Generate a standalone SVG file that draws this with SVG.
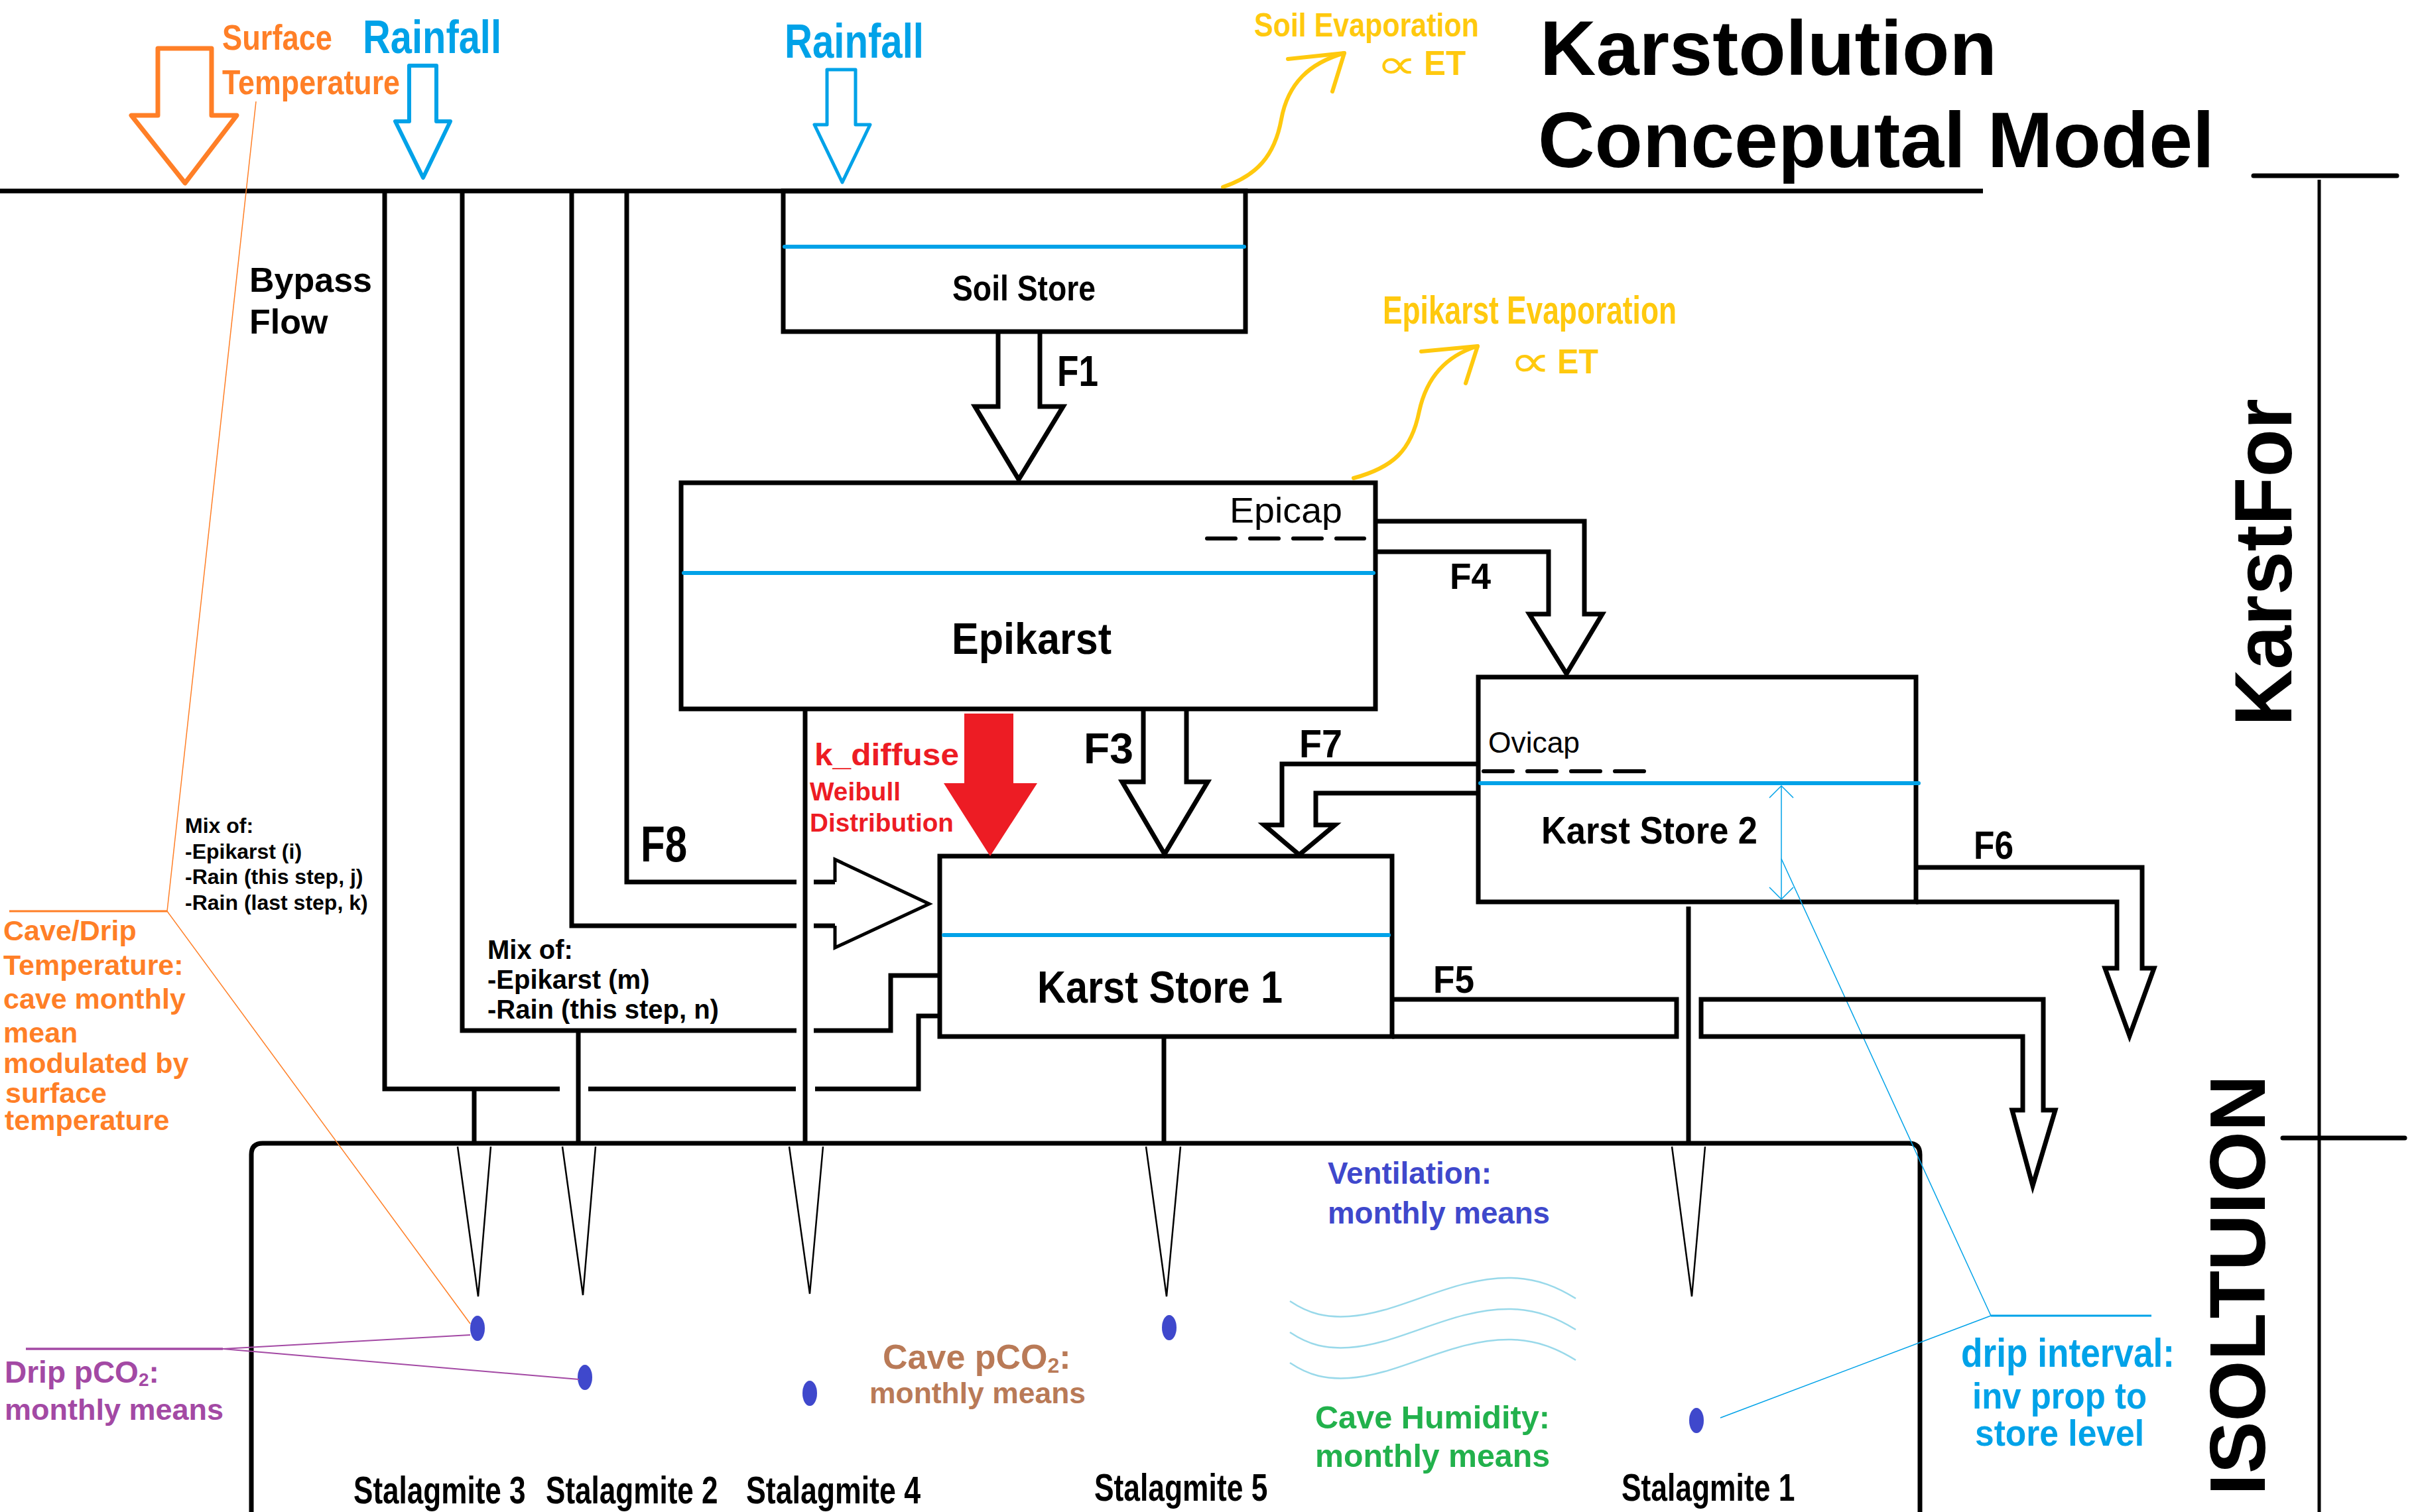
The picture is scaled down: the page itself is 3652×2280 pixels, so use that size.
<svg xmlns="http://www.w3.org/2000/svg" width="3652" height="2280" viewBox="0 0 3652 2280">
<style>
.k{stroke:#000;fill:none;stroke-width:7}
.ah{stroke:#000;fill:none;stroke-width:7;stroke-linejoin:miter}
.wl{stroke:#00A2E8;stroke-width:6;stroke-linecap:round}
.ds{stroke:#000;stroke-width:6;stroke-linecap:round}
.st{stroke:#000;stroke-width:2.5;fill:none}
.drop{fill:#3F48CC}
.ye-l{stroke:#FFC90E;stroke-width:6;fill:none;stroke-linecap:round;stroke-linejoin:round}
.wave{stroke:#99D9EA;stroke-width:2.5;fill:none}
text{font-family:"Liberation Sans",Arial,"DejaVu Sans",sans-serif;font-weight:bold}
.n{font-weight:normal}
.prop{font-family:"DejaVu Sans",sans-serif;font-weight:normal}
.or{fill:#FF7F27}
.bl{fill:#00A2E8}
.ye{fill:#FFC90E}
.rd{fill:#ED1C24}
.pu{fill:#A349A4}
.in{fill:#3F48CC}
.br{fill:#B97A57}
.gr{fill:#22B14C}
</style>
<rect width="3652" height="2280" fill="#fff"/>

<g id="frame">
  <line x1="0" y1="288" x2="2990" y2="288" stroke="#000" stroke-width="7"/>
  <line x1="3398" y1="265" x2="3614" y2="265" stroke="#000" stroke-width="7" stroke-linecap="round"/>
  <line x1="3497" y1="271" x2="3497" y2="2280" stroke="#000" stroke-width="5"/>
  <line x1="3442" y1="1716" x2="3626" y2="1716" stroke="#000" stroke-width="7" stroke-linecap="round"/>
  <text x="2322" y="113" font-size="117" textLength="689" lengthAdjust="spacingAndGlyphs">Karstolution</text>
  <text x="2319" y="252" font-size="118" textLength="1020" lengthAdjust="spacingAndGlyphs">Conceputal Model</text>
  <text transform="translate(3455,1095) rotate(-90)" font-size="122" textLength="494" lengthAdjust="spacingAndGlyphs">KarstFor</text>
  <text transform="translate(3415,2255) rotate(-90)" font-size="118" textLength="634" lengthAdjust="spacingAndGlyphs">ISOLTUION</text>
</g>

<g id="surface-temperature">
  <polygon points="238,73 319,73 319,174 357,174 279,276 198,174 238,174" fill="none" stroke="#FF7F27" stroke-width="7" stroke-linejoin="round"/>
  <text class="or" x="335" y="75" font-size="54" textLength="166" lengthAdjust="spacingAndGlyphs">Surface</text>
  <text class="or" x="335" y="142" font-size="52" textLength="268" lengthAdjust="spacingAndGlyphs">Temperature</text>
</g>

<g id="rainfall-1">
  <polygon points="617,99 658,99 658,183 679,183 638,268 596,183 617,183" fill="none" stroke="#00A2E8" stroke-width="6" stroke-linejoin="round"/>
  <text class="bl" x="547" y="80" font-size="70" textLength="209" lengthAdjust="spacingAndGlyphs">Rainfall</text>
</g>

<g id="rainfall-2">
  <polygon points="1247,105 1290,105 1290,188 1312,188 1270,275 1228,188 1247,188" fill="none" stroke="#00A2E8" stroke-width="5" stroke-linejoin="round"/>
  <text class="bl" x="1183" y="87" font-size="72" textLength="210" lengthAdjust="spacingAndGlyphs">Rainfall</text>
</g>

<g id="soil-evaporation">
  <path class="ye-l" d="M1844,282 C1895,265 1922,235 1932,180 C1942,125 1975,95 2027,80"/>
  <path class="ye-l" d="M1942,89 L2027,80 L2009,138"/>
  <text class="ye" x="1891" y="55" font-size="50" textLength="339" lengthAdjust="spacingAndGlyphs">Soil Evaporation</text>
  <text class="ye prop" x="2075" y="118" font-size="62" textLength="62" lengthAdjust="spacingAndGlyphs">∝</text>
  <text class="ye" x="2147" y="113" font-size="52" textLength="63" lengthAdjust="spacingAndGlyphs">ET</text>
</g>

<g id="epikarst-evaporation">
  <path class="ye-l" d="M2041,721 C2100,705 2128,680 2140,620 C2152,565 2185,535 2228,522"/>
  <path class="ye-l" d="M2143,530 L2228,522 L2210,578"/>
  <text class="ye" x="2085" y="488" font-size="60" textLength="443" lengthAdjust="spacingAndGlyphs">Epikarst Evaporation</text>
  <text class="ye prop" x="2276" y="568" font-size="68" textLength="63" lengthAdjust="spacingAndGlyphs">∝</text>
  <text class="ye" x="2348" y="563" font-size="52" textLength="62" lengthAdjust="spacingAndGlyphs">ET</text>
</g>

<g id="soil-store">
  <rect x="1181" y="288" width="697" height="212" class="k"/>
  <line x1="1183" y1="372" x2="1876" y2="372" class="wl"/>
  <text x="1436" y="453" font-size="54" textLength="216" lengthAdjust="spacingAndGlyphs">Soil Store</text>
</g>

<g id="epikarst">
  <rect x="1027" y="728" width="1047" height="341" class="k"/>
  <line x1="1031" y1="864" x2="2071" y2="864" class="wl"/>
  <line x1="1820" y1="812" x2="2057" y2="812" class="ds" stroke-dasharray="43 22"/>
  <text class="n" x="1854" y="788" font-size="54" textLength="170" lengthAdjust="spacingAndGlyphs">Epicap</text>
  <text x="1435" y="986" font-size="66" textLength="241" lengthAdjust="spacingAndGlyphs">Epikarst</text>
</g>

<g id="karst-store-1">
  <rect x="1417" y="1291" width="682" height="272" class="k"/>
  <line x1="1423" y1="1410" x2="2094" y2="1410" class="wl"/>
  <text x="1564" y="1512" font-size="68" textLength="370" lengthAdjust="spacingAndGlyphs">Karst Store 1</text>
</g>

<g id="karst-store-2">
  <rect x="2229" y="1021" width="660" height="339" class="k"/>
  <line x1="2232" y1="1181" x2="2893" y2="1181" class="wl"/>
  <line x1="2237" y1="1163" x2="2479" y2="1163" class="ds" stroke-dasharray="44 22"/>
  <text class="n" x="2244" y="1135" font-size="44" textLength="138" lengthAdjust="spacingAndGlyphs">Ovicap</text>
  <text x="2324" y="1272" font-size="58" textLength="326" lengthAdjust="spacingAndGlyphs">Karst Store 2</text>
  <g stroke="#00A2E8" stroke-width="1.5" fill="none">
    <line x1="2686" y1="1185" x2="2686" y2="1356"/>
    <polyline points="2668,1203 2686,1185 2704,1203"/>
    <polyline points="2668,1338 2686,1356 2704,1338"/>
  </g>
</g>

<g id="cave">
  <path d="M379,2290 V1741 Q379,1724 396,1724 H2878 Q2895,1724 2895,1741 V2290" class="k"/>
  <polyline class="st" points="690,1729 721,1955 740,1729"/>
  <polyline class="st" points="848,1729 879,1953 898,1729"/>
  <polyline class="st" points="1190,1729 1221,1951 1241,1729"/>
  <polyline class="st" points="1728,1729 1759,1955 1780,1729"/>
  <polyline class="st" points="2521,1729 2551,1955 2571,1729"/>
  <ellipse class="drop" cx="720" cy="2003" rx="11" ry="19"/>
  <ellipse class="drop" cx="882" cy="2077" rx="11" ry="19"/>
  <ellipse class="drop" cx="1221" cy="2101" rx="11" ry="19"/>
  <ellipse class="drop" cx="1763" cy="2002" rx="11" ry="19"/>
  <ellipse class="drop" cx="2558" cy="2142" rx="11" ry="19"/>
  <text transform="translate(533,2267) scale(0.76,1)" font-size="58">Stalagmite 3</text>
  <text transform="translate(823,2267) scale(0.76,1)" font-size="58">Stalagmite 2</text>
  <text transform="translate(1125,2267) scale(0.77,1)" font-size="58">Stalagmite 4</text>
  <text transform="translate(1650,2263) scale(0.765,1)" font-size="58">Stalagmite 5</text>
  <text transform="translate(2445,2263) scale(0.765,1)" font-size="58">Stalagmite 1</text>
  <g class="wave">
    <path d="M1945,1962 C1975,1982 2000,1987 2034,1985 C2110,1981 2190,1925 2279,1927 C2320,1928 2350,1942 2376,1958"/>
    <path d="M1945,2009 C1975,2029 2000,2034 2034,2032 C2110,2028 2190,1972 2279,1974 C2320,1975 2350,1989 2376,2005"/>
    <path d="M1945,2055 C1975,2075 2000,2080 2034,2078 C2110,2074 2190,2018 2279,2020 C2320,2021 2350,2035 2376,2051"/>
  </g>
  <text class="in" x="2002" y="1785" font-size="46" textLength="247" lengthAdjust="spacingAndGlyphs">Ventilation:</text>
  <text class="in" x="2002" y="1845" font-size="46" textLength="335" lengthAdjust="spacingAndGlyphs">monthly means</text>
  <text class="br" x="1331" y="2064" font-size="52">Cave pCO<tspan font-size="32" dy="6">2</tspan><tspan dy="-6">:</tspan></text>
  <text class="br" x="1311" y="2116" font-size="44.5" textLength="326" lengthAdjust="spacingAndGlyphs">monthly means</text>
  <text class="gr" x="1983" y="2154" font-size="48" textLength="354" lengthAdjust="spacingAndGlyphs">Cave Humidity:</text>
  <text class="gr" x="1983" y="2212" font-size="48" textLength="354" lengthAdjust="spacingAndGlyphs">monthly means</text>
</g>

<g id="bypass-labels">
  <text x="376" y="440" font-size="52">Bypass</text>
  <text x="376" y="503" font-size="52">Flow</text>
  <g font-size="32">
    <text x="279" y="1256">Mix of:</text>
    <text x="279" y="1295">-Epikarst (i)</text>
    <text x="279" y="1333">-Rain (this step, j)</text>
    <text x="279" y="1372">-Rain (last step, k)</text>
  </g>
  <g font-size="40">
    <text x="735" y="1446">Mix of:</text>
    <text x="735" y="1491">-Epikarst (m)</text>
    <text x="735" y="1536">-Rain (this step, n)</text>
  </g>
</g>

<g id="k-diffuse">
  <polygon points="1454,1076 1528,1076 1528,1181 1564,1181 1493,1291 1423,1181 1454,1181" fill="#ED1C24"/>
  <text class="rd" x="1228" y="1154" font-size="46" textLength="218" lengthAdjust="spacingAndGlyphs">k_diffuse</text>
  <text class="rd" x="1221" y="1207" font-size="38" textLength="137" lengthAdjust="spacingAndGlyphs">Weibull</text>
  <text class="rd" x="1221" y="1254" font-size="38" textLength="217" lengthAdjust="spacingAndGlyphs">Distribution</text>
</g>

<g id="cave-temperature">
  <line x1="386" y1="153" x2="252" y2="1374" stroke="#FF7F27" stroke-width="1.5"/>
  <line x1="14" y1="1374" x2="252" y2="1374" stroke="#FF7F27" stroke-width="3"/>
  <line x1="252" y1="1374" x2="709" y2="1996" stroke="#FF7F27" stroke-width="1.5"/>
  <g class="or" font-size="43">
    <text x="5" y="1418">Cave/Drip</text>
    <text x="5" y="1470">Temperature:</text>
    <text x="5" y="1521">cave monthly</text>
    <text x="5" y="1572">mean</text>
    <text x="5" y="1618">modulated by</text>
    <text x="8" y="1663">surface</text>
    <text x="7" y="1704">temperature</text>
  </g>
</g>

<g id="drip-pco2">
  <line x1="39" y1="2034" x2="336" y2="2034" stroke="#A349A4" stroke-width="3.5"/>
  <line x1="336" y1="2034" x2="709" y2="2013" stroke="#A349A4" stroke-width="2"/>
  <line x1="336" y1="2034" x2="873" y2="2080" stroke="#A349A4" stroke-width="2"/>
  <text class="pu" x="7" y="2085" font-size="46">Drip pCO<tspan font-size="28" dy="5">2</tspan><tspan dy="-5">:</tspan></text>
  <text class="pu" x="7" y="2141" font-size="45">monthly means</text>
</g>

<g id="drip-interval">
  <line x1="2686" y1="1295" x2="3002" y2="1984" stroke="#00A2E8" stroke-width="1.5"/>
  <line x1="3002" y1="1984" x2="3244" y2="1984" stroke="#00A2E8" stroke-width="3"/>
  <line x1="3002" y1="1984" x2="2594" y2="2138" stroke="#00A2E8" stroke-width="1.5"/>
  <text class="bl" x="2957" y="2061" font-size="62" textLength="322" lengthAdjust="spacingAndGlyphs">drip interval:</text>
  <text class="bl" x="2974" y="2124" font-size="56" textLength="263" lengthAdjust="spacingAndGlyphs">inv prop to</text>
  <text class="bl" x="2978" y="2180" font-size="56" textLength="255" lengthAdjust="spacingAndGlyphs">store level</text>
</g>

<g id="connectors">
  <path class="k" d="M580,288 V1642 H844 M887,1642 H1200 M1229,1642 H1385 V1532 H1418"/>
  <path class="k" d="M697,288 V1554 H1201 M1227,1554 H1343 V1471 H1418"/>
  <path class="k" d="M862,288 V1396 H1201 M1227,1396 H1259"/>
  <path class="k" d="M945,288 V1330 H1201 M1227,1330 H1259"/>
  <path d="M1259,1330 V1296 L1401,1363 L1259,1429 V1396" fill="none" stroke="#000" stroke-width="5"/>
  <path class="k" d="M715,1642 V1724 M872,1554 V1724"/>
  <path class="k" d="M1214,1069 V1724"/>
  <path class="k" d="M1755,1563 V1724"/>
  <path class="k" d="M2546,1367 V1724"/>
  <polyline class="ah" points="1505,500 1505,613 1470,613 1536,723 1603,613 1568,613 1568,500"/>
  <text x="1594" y="582" font-size="64" textLength="62" lengthAdjust="spacingAndGlyphs">F1</text>
  <polyline class="ah" points="1724,1069 1724,1179 1692,1179 1756,1288 1821,1179 1789,1179 1789,1069"/>
  <text x="1634" y="1151" font-size="64" textLength="75" lengthAdjust="spacingAndGlyphs">F3</text>
  <polyline class="ah" points="2074,786 2389,786 2389,926 2416,926 2362,1016 2306,926 2335,926 2335,832 2074,832"/>
  <text x="2186" y="888" font-size="56" textLength="62" lengthAdjust="spacingAndGlyphs">F4</text>
  <polyline class="ah" points="2229,1152 1933,1152 1933,1244 1906,1244 1959,1289 2013,1244 1984,1244 1984,1196 2229,1196"/>
  <text x="1959" y="1142" font-size="60" textLength="65" lengthAdjust="spacingAndGlyphs">F7</text>
  <text x="966" y="1299" font-size="76" textLength="70" lengthAdjust="spacingAndGlyphs">F8</text>
  <polyline class="ah" points="2099,1507 2528,1507 2528,1563 2099,1563"/>
  <polygon class="ah" points="2565,1507 3081,1507 3081,1674 3099,1674 3065,1788 3034,1674 3050,1674 3050,1563 2565,1563"/>
  <text x="2161" y="1497" font-size="58" textLength="62" lengthAdjust="spacingAndGlyphs">F5</text>
  <polyline class="ah" points="2889,1308 3230,1308 3230,1460 3248,1460 3211,1562 3174,1460 3192,1460 3192,1360 2889,1360"/>
  <text x="2976" y="1295" font-size="60" textLength="60" lengthAdjust="spacingAndGlyphs">F6</text>
</g>
</svg>
